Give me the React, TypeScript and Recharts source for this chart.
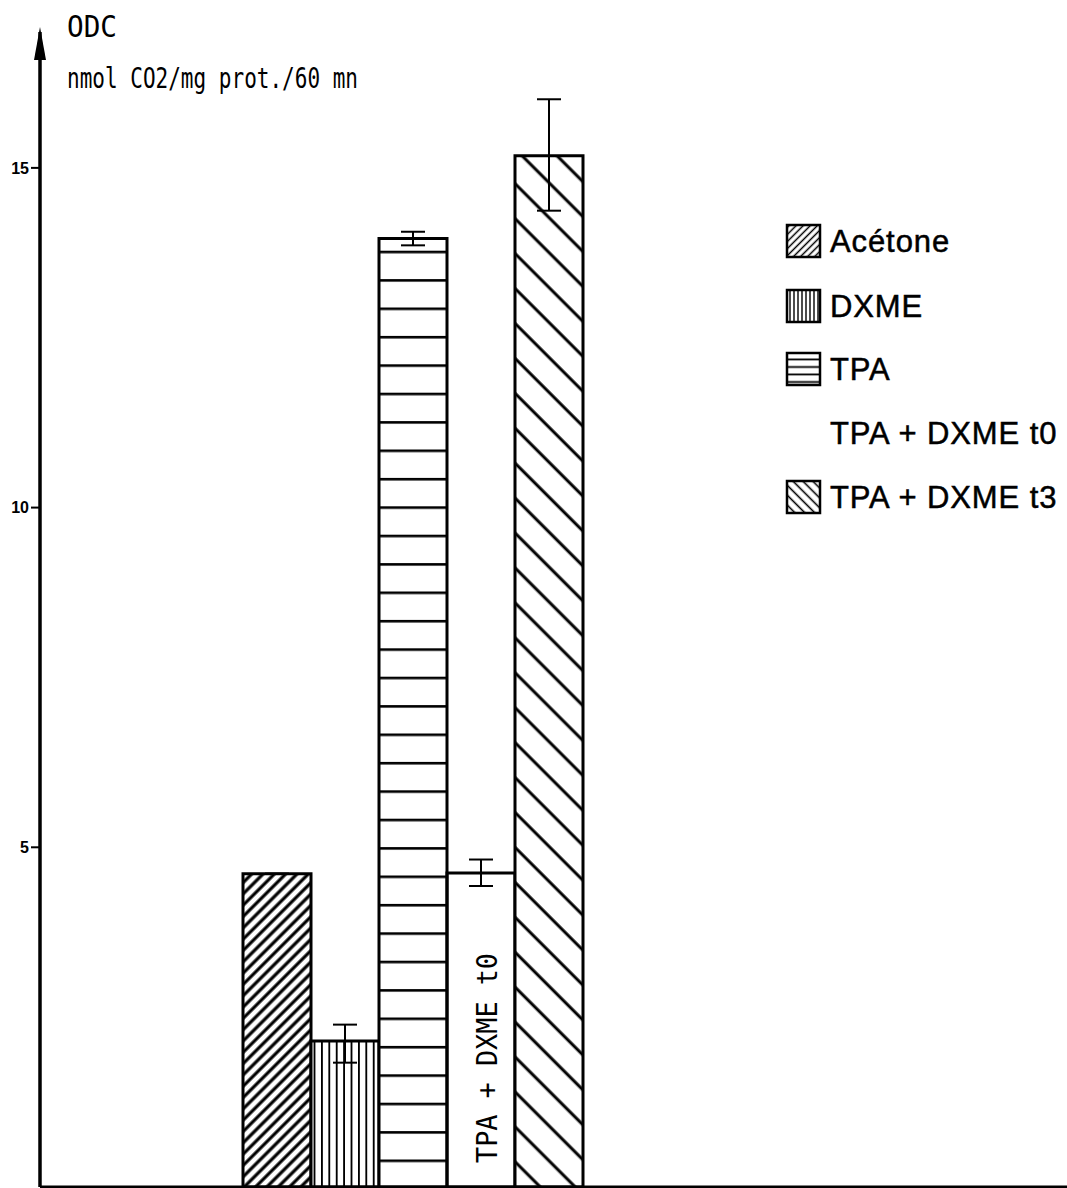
import React from 'react';
import { BarChart, Bar, XAxis, YAxis, Cell, ErrorBar, ReferenceLine } from 'recharts';

const categories = ['Acétone', 'DXME', 'TPA', 'TPA + DXME t0', 'TPA + DXME t3'];
const values = [4.61, 2.15, 13.96, 4.62, 15.18];
const errLow = [0, 0.32, 0.1, 0.19, 0.81];
const errHigh = [0, 0.24, 0.1, 0.2, 0.83];
const yTicks = [5, 10, 15];
const barFills = ['url(#pAce)', 'url(#pDx)', 'url(#pTpa)', 'none', 'url(#pT3)'];
const legendFills = ['url(#lAce)', 'url(#lDx)', 'url(#lTpa)', null, 'url(#lT3)'];
const legendRows = [241, 306, 369, 433, 497];

const data = categories.map((c, i) => ({
  name: c,
  value: values[i],
  err: [errLow[i], errHigh[i]],
}));

const plotterFont = '"DejaVu Sans Mono", "Liberation Mono", monospace';
const legendFont = '"Liberation Sans", Arial, sans-serif';

export default function App() {
  return (
    <div style={{ position: 'absolute', left: 0, top: 0, width: 1067, height: 1188, background: '#fff' }}>
      <BarChart
        width={1067}
        height={1188}
        data={data}
        margin={{ top: 32, right: 0, bottom: 1, left: 0 }}
        barCategoryGap={0}
      >
        <defs>
          <pattern id="pAce" patternUnits="userSpaceOnUse" width="8" height="8" patternTransform="rotate(45)">
            <rect width="8" height="8" fill="#fff" />
            <line x1="4" y1="-1" x2="4" y2="9" stroke="#000" strokeWidth="3.2" />
          </pattern>
          <pattern id="pDx" patternUnits="userSpaceOnUse" width="7.4" height="10">
            <rect width="7.4" height="10" fill="#fff" />
            <line x1="3.7" y1="-1" x2="3.7" y2="11" stroke="#000" strokeWidth="1.9" />
          </pattern>
          <pattern id="pTpa" patternUnits="userSpaceOnUse" width="10" height="28.4">
            <rect width="10" height="28.4" fill="#fff" />
            <line x1="-1" y1="24.8" x2="11" y2="24.8" stroke="#000" strokeWidth="2.6" />
          </pattern>
          <pattern id="pT3" patternUnits="userSpaceOnUse" width="24.7" height="24.7" patternTransform="rotate(-45)">
            <rect width="24.7" height="24.7" fill="#fff" />
            <line x1="12" y1="-1" x2="12" y2="26" stroke="#000" strokeWidth="3" />
          </pattern>
          <pattern id="lAce" patternUnits="userSpaceOnUse" width="5" height="5" patternTransform="rotate(45)">
            <rect width="5" height="5" fill="#fff" />
            <line x1="2.5" y1="-1" x2="2.5" y2="6" stroke="#000" strokeWidth="1.5" />
          </pattern>
          <pattern id="lDx" patternUnits="userSpaceOnUse" width="4" height="5">
            <rect width="4" height="5" fill="#fff" />
            <line x1="2" y1="-1" x2="2" y2="6" stroke="#000" strokeWidth="1.4" />
          </pattern>
          <pattern id="lTpa" patternUnits="userSpaceOnUse" width="5" height="7.5" y="1">
            <rect width="5" height="7.5" fill="#fff" />
            <line x1="-1" y1="6" x2="6" y2="6" stroke="#000" strokeWidth="1.8" />
          </pattern>
          <pattern id="lT3" patternUnits="userSpaceOnUse" width="7" height="7" patternTransform="rotate(-45)">
            <rect width="7" height="7" fill="#fff" />
            <line x1="3.5" y1="-1" x2="3.5" y2="8" stroke="#000" strokeWidth="1.6" />
          </pattern>
        </defs>
        <g>
          <polygon points="40,27 34,60 46,60" fill="#000" />
          <text x={67} y={37} fontFamily={plotterFont} fontSize={30} textLength={50} lengthAdjust="spacingAndGlyphs" fill="#000">ODC</text>
          <text x={67} y={88} fontFamily={plotterFont} fontSize={29} textLength={291} lengthAdjust="spacingAndGlyphs" fill="#000">nmol CO2/mg prot./60 mn</text>
          <text
            transform="translate(497,1058) rotate(-90)"
            x={0}
            y={0}
            textAnchor="middle"
            fontFamily={plotterFont}
            fontSize={29}
            textLength={210}
            lengthAdjust="spacingAndGlyphs"
            fill="#000"
          >
            TPA + DXME t0
          </text>
          {categories.map((c, i) => (
            <g key={c}>
              {legendFills[i] && (
                <rect x={787} y={legendRows[i] - 16} width={33} height={32} fill={legendFills[i] as string} stroke="#000" strokeWidth={2.5} />
              )}
              <text
                x={830}
                y={legendRows[i] + 11}
                fontFamily={legendFont}
                fontSize={31}
                letterSpacing={0.9}
                fill="#000"
                stroke="#000"
                strokeWidth={0.5}
              >
                {c}
              </text>
            </g>
          ))}
        </g>
        <XAxis
          dataKey="name"
          type="category"
          height={0}
          tick={false}
          tickLine={false}
          axisLine={false}
          padding={{ left: 203, right: 484 }}
        />
        <YAxis
          type="number"
          domain={[0, 17]}
          ticks={yTicks}
          width={40}
          tickSize={9}
          tickMargin={2}
          axisLine={{ stroke: '#000', strokeWidth: 3.5 }}
          tickLine={{ stroke: '#000', strokeWidth: 2 }}
          tick={{ fill: '#000', fontSize: 16, fontWeight: 'bold', fontFamily: legendFont }}
        />
        <Bar dataKey="value" isAnimationActive={false} stroke="#000" strokeWidth={3}>
          {data.map((d, i) => (
            <Cell key={d.name} fill={barFills[i]} stroke="#000" strokeWidth={3} />
          ))}
          <ErrorBar dataKey="err" width={12} stroke="#000" strokeWidth={2} />
        </Bar>
        <ReferenceLine y={0} stroke="#000" strokeWidth={3} />
      </BarChart>
    </div>
  );
}
